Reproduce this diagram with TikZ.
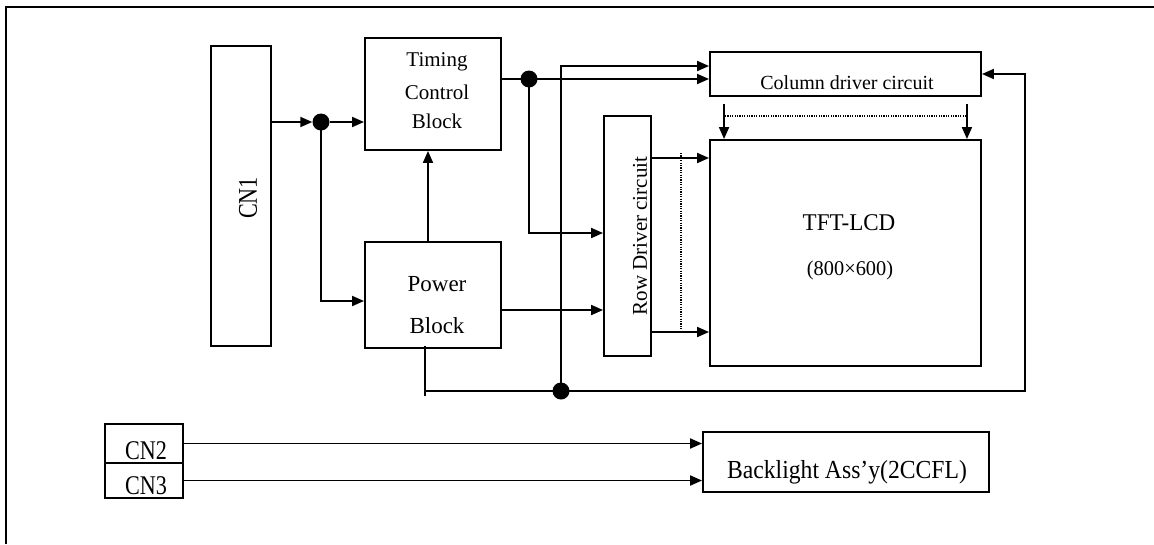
\documentclass[tikz,border=0pt]{standalone}
\usepackage{fontspec}
\usepackage{graphicx}
\setmainfont{Liberation Serif}
\usetikzlibrary{arrows.meta,calc}
\newcommand\hsq[2]{\scalebox{#1}[1]{#2}}
\newcommand\fs[1]{\fontsize{#1}{#1}\selectfont}
\begin{document}
\begin{tikzpicture}[x=1pt,y=-1pt,
  box/.style={draw,line width=1.9pt,inner sep=0pt},
  lbl/.style={inner sep=0pt},
  arr/.style={line width=1.9pt,-{Triangle[length=12pt,width=10pt]}},
  wire/.style={line width=1.9pt},
  dotline/.style={line width=1.1pt,dash pattern=on 1.1pt off 1.3pt},
  jdot/.style={circle,fill=black,inner sep=0pt,minimum size=17pt}]
\useasboundingbox (0,0) rectangle (1154,544);
% frame
\draw[line width=1.9pt] (6,544) -- (6,7) -- (1154,7);
% boxes
\node[box,minimum width=60pt,minimum height=300pt] (cn1) at (241,196) {};
\node[box,minimum width=136pt,minimum height=112pt] (tim) at (433,94) {};
\node[box,minimum width=136pt,minimum height=106pt] (pow) at (433,295) {};
\node[box,minimum width=271pt,minimum height=44pt] (col) at (845.5,74) {};
\node[box,minimum width=47pt,minimum height=240pt] (row) at (627.5,236) {};
\node[box,minimum width=271pt,minimum height=226pt] (tft) at (845.5,253) {};
\node[box,minimum width=78pt,minimum height=39pt] (cn2) at (144,443.5) {};
\node[box,minimum width=78pt,minimum height=35pt] (cn3) at (144,480.5) {};
\node[box,minimum width=286pt,minimum height=60pt] (bl) at (846,462) {};
% texts
\node[lbl,rotate=90] (tcn1) at (248,198) {\fs{27}\hsq{0.82}{CN1}};
\node[lbl] (tt1) at (437,62) {\fs{21}Timing};
\node[lbl] (tt2) at (437,92) {\fs{21}Control};
\node[lbl] (tt3) at (437,121) {\fs{21}Block};
\node[lbl] (tp1) at (437,284) {\fs{23}Power};
\node[lbl] (tp2) at (437,326) {\fs{23}Block};
\node[lbl] (tcol) at (847,83) {\fs{20}Column driver circuit};
\node[lbl,rotate=90] (trow) at (640,236) {\fs{21}Row Driver circuit};
\node[lbl] (ttft1) at (849,223) {\fs{24}\hsq{0.96}{TFT-LCD}};
\node[lbl] (ttft2) at (850,270) {\fs{21}\hsq{0.97}{(800×600)}};
\node[lbl] (tcn2) at (146,451) {\fs{27}\hsq{0.82}{CN2}};
\node[lbl] (tcn3) at (146,486) {\fs{27}\hsq{0.82}{CN3}};
\node[lbl] (tbl) at (847,472) {\fs{26}\hsq{0.91}{Backlight Ass’y(2CCFL)}};
% junction dots
\node[jdot] (d1) at (321,122) {};
\node[jdot] (d2) at (529,79) {};
\node[jdot] (d3) at (561,391) {};
% coordinates
\coordinate (r1) at (651,158);
\coordinate (r2) at (651,332);
\coordinate (lp1) at (425,391);
\coordinate (lp2) at (1025,74);
\coordinate (dv1) at (681,153);
\coordinate (dv2) at (681,330);
\coordinate (dh1) at (725,116);
\coordinate (dh2) at (966,116);
% connectors
\draw[arr] (d1 -| cn1.east) -- (d1.west);
\draw[arr] (d1.east) -- (d1 -| tim.west);
\draw[arr] (d1.center) |- ([yshift=-6pt]pow.west);
\draw[arr] ([xshift=-5pt]pow.north) -- ([xshift=-5pt]tim.south);
\draw[wire] (d2 -| tim.east) -- (d2.center);
\draw[arr] (d2.center) -- (d2 -| col.west);
\draw[arr] (d2.center) |- ([yshift=3pt]row.west);
\draw[arr] (d3.center) |- ([yshift=8pt]col.west);
\draw[arr] ([yshift=-15pt]pow.east) -- ([yshift=-15pt]pow.east -| row.west);
\draw[arr] (r1) -- (r1 -| tft.west);
\draw[arr] (r2) -- (r2 -| tft.west);
\draw[dotline] (dv1) -- (dv2);
\draw[arr] ([shift={(15,7)}]col.south west) -- ([xshift=15pt]tft.north west);
\draw[arr] ([shift={(-15,7)}]col.south east) -- ([xshift=-15pt]tft.north east);
\draw[dotline] (dh1) -- (dh2);
\draw[wire] ([xshift=-8pt,yshift=3pt]pow.south) -- ([yshift=-5pt]lp1);
\draw[arr] (lp1) -| (lp2) -- (col.east);
\draw[arr] (cn2.east) -- (cn2.east -| bl.west);
\draw[arr] (cn3.east) -- (cn3.east -| bl.west);
\end{tikzpicture}
\end{document}
